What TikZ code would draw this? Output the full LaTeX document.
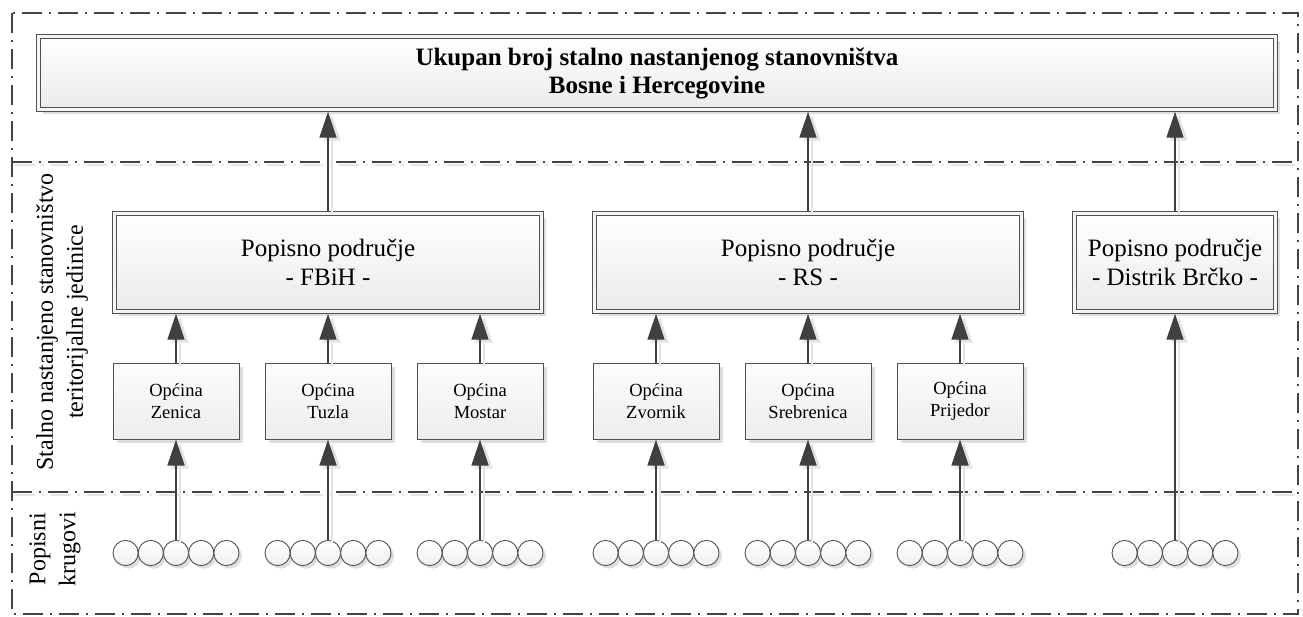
\documentclass[tikz,border=0pt]{standalone}
\usepackage{fontspec}
\setmainfont{Liberation Serif}
\usetikzlibrary{shadows,arrows.meta}
\definecolor{ln}{HTML}{404040}
\definecolor{bd}{HTML}{505050}
\definecolor{lanec}{HTML}{444444}
\tikzset{
  lane/.style={draw=lanec, line width=2.2pt, dash pattern=on 20pt off 7pt on 2pt off 7pt},
  laneshadow/.style={draw=gray!20, line width=2pt, dash pattern=on 20pt off 7pt on 2pt off 7pt,
    transform canvas={xshift=3pt, yshift=-3pt}},
  shad/.style={drop shadow={shadow xshift=4pt, shadow yshift=-4pt, fill=black, opacity=0.13}},
  bigbox/.style={draw=bd, double=gray!8, double distance=2.6pt, line width=0.9pt,
    top color=white, bottom color=gray!16, shad, outer sep=2.2pt, inner sep=0pt, align=center},
  smallbox/.style={draw=bd, line width=1pt, top color=gray!2, bottom color=gray!14, shad,
    minimum width=126pt, minimum height=76pt, inner sep=0pt, align=center,
    font=\fontsize{18.5}{22}\selectfont},
  ring/.style={circle, draw=bd, line width=0.9pt, minimum size=25.2pt, inner sep=0pt,
    top color=white, bottom color=gray!12,
    drop shadow={shadow xshift=3pt, shadow yshift=-3pt, fill=black, opacity=0.13}},
  conn/.style={draw=ln, line width=1.3pt, -{Triangle[length=26pt,width=17pt]}, color=ln},
  connshadow/.style={draw=gray!22, line width=2pt, -{Triangle[length=26pt,width=17pt]},
    color=gray!22, transform canvas={xshift=4pt, yshift=-3pt}},
  lanelabel/.style={rotate=90, align=center, font=\fontsize{24}{30}\selectfont}
}
\newcommand\myconn[2]{\draw[connshadow] #1 -- #2; \draw[conn] #1 -- #2;}
\begin{document}
\begin{tikzpicture}[x=1pt,y=1pt]
\useasboundingbox (0,0) rectangle (1303,-616);
% lanes
\draw[laneshadow] (12,-162) -- (1298,-162);
\draw[laneshadow] (12,-492) -- (1298,-492);
\draw[lane] (12,-13) rectangle (1298,-614);
\draw[lane] (12,-162) -- (1298,-162);
\draw[lane] (12,-492) -- (1298,-492);
% lane labels
\node[lanelabel] (lab1) at (62,-322) {Stalno nastanjeno stanovništvo\\teritorijalne jedinice};
\node[lanelabel] (lab2) at (55,-549) {Popisni\\krugovi};
% top box
\node[bigbox, minimum width=1237pt, minimum height=73pt,
  font=\fontsize{25}{28}\selectfont\bfseries] (top) at (657,-73)
  {Ukupan broj stalno nastanjenog stanovništva\\Bosne i Hercegovine};
% regions
\node[bigbox, minimum width=427pt, minimum height=98pt, font=\fontsize{25}{29}\selectfont]
  (fbih) at (328,-262.5) {Popisno područje\\- FBiH -};
\node[bigbox, minimum width=427pt, minimum height=98pt, font=\fontsize{25}{29}\selectfont]
  (rs) at (808,-262.5) {Popisno područje\\- RS -};
\node[bigbox, minimum width=201pt, minimum height=98pt, font=\fontsize{25}{29}\selectfont]
  (brc) at (1175,-262.5) {Popisno područje\\- Distrik Brčko -};
% municipalities
\node[smallbox] (zen) at (176,-401) {Općina\\Zenica};
\node[smallbox] (tuz) at (328,-401) {Općina\\Tuzla};
\node[smallbox] (mos) at (480,-401) {Općina\\Mostar};
\node[smallbox] (zvo) at (656,-401) {Općina\\Zvornik};
\node[smallbox] (sre) at (808,-401) {Općina\\Srebrenica};
\node[smallbox] (pri) at (960,-401) {Općina\\Prijedor};
% circles
\foreach \g/\cx in {zen/176, tuz/328, mos/480, zvo/656, sre/808, pri/960, brc/1175}{
  \foreach \i in {1,...,5}{
    \node[ring] (\g-c\i) at ({\cx+(\i-3)*25.2},-553) {};
  }
}
% connectors
\myconn{(fbih.north)}{(fbih.north |- top.south)}
\myconn{(rs.north)}{(rs.north |- top.south)}
\myconn{(brc.north)}{(brc.north |- top.south)}
\foreach \m/\r in {zen/fbih, tuz/fbih, mos/fbih, zvo/rs, sre/rs, pri/rs}{
  \myconn{(\m.north)}{(\m.north |- \r.south)}
  \myconn{(\m-c3.north)}{(\m.south)}
}
\myconn{(brc-c3.north)}{(brc.south)}
\end{tikzpicture}
\end{document}
